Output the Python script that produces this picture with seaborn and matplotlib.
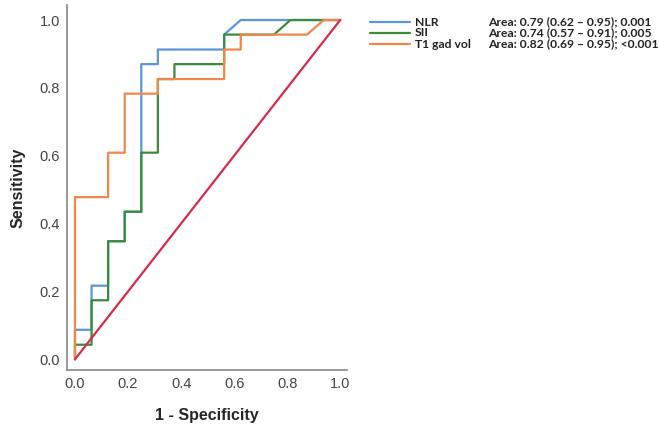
import matplotlib
matplotlib.use("Agg")
import matplotlib.pyplot as plt
import seaborn as sns
import pandas as pd

# ROC coordinates (16 negatives, 23 positives)
nlr_fpr = [0, 0, 0.0625, 0.0625, 0.125, 0.125, 0.1875, 0.1875, 0.25, 0.25, 0.3125, 0.3125, 0.5625, 0.5625, 0.625, 1.0]
nlr_tpr = [0, 0.087, 0.087, 0.217, 0.217, 0.348, 0.348, 0.435, 0.435, 0.870, 0.870, 0.913, 0.913, 0.957, 1.0, 1.0]

sii_fpr = [0, 0, 0.0625, 0.0625, 0.125, 0.125, 0.1875, 0.1875, 0.25, 0.25, 0.3125, 0.3125, 0.375, 0.375, 0.5625, 0.5625, 0.75, 0.8125, 1.0]
sii_tpr = [0, 0.043, 0.043, 0.174, 0.174, 0.348, 0.348, 0.435, 0.435, 0.609, 0.609, 0.826, 0.826, 0.870, 0.870, 0.957, 0.957, 1.0, 1.0]

t1_fpr = [0, 0, 0.125, 0.125, 0.1875, 0.1875, 0.3125, 0.3125, 0.5625, 0.5625, 0.625, 0.625, 0.875, 0.9375, 1.0]
t1_tpr = [0, 0.478, 0.478, 0.609, 0.609, 0.783, 0.783, 0.826, 0.826, 0.913, 0.913, 0.957, 0.957, 1.0, 1.0]

ref_fpr = [0, 1]
ref_tpr = [0, 1]

names = ["NLR", "SII", "T1 gad vol"]
areas = ["Area: 0.79 (0.62 \u2013 0.95); 0.001",
         "Area: 0.74 (0.57 \u2013 0.91); 0.005",
         "Area: 0.82 (0.69 \u2013 0.95); <0.001"]
colors = {"NLR": "#5b96d8", "SII": "#3a8c3a", "T1 gad vol": "#f2874a", "ref": "#d62b4b"}

rows = []
for name, xs, ys in [("NLR", nlr_fpr, nlr_tpr), ("SII", sii_fpr, sii_tpr),
                     ("T1 gad vol", t1_fpr, t1_tpr), ("ref", ref_fpr, ref_tpr)]:
    for i, (x, y) in enumerate(zip(xs, ys)):
        rows.append({"curve": name, "order": i, "fpr": x, "tpr": y})
df = pd.DataFrame(rows)

sns.set_style("white")
plt.rcParams["font.family"] = ["Liberation Sans", "DejaVu Sans"]

fig = plt.figure(figsize=(6.59, 4.24), dpi=100)
ax = fig.add_axes([0.1017, 0.127, 0.425, 0.861])

# draw order: blue, green, orange, then the reference diagonal on top
for name in ["NLR", "SII", "T1 gad vol", "ref"]:
    sns.lineplot(data=df[df["curve"] == name], x="fpr", y="tpr", estimator=None,
                 sort=False, color=colors[name], linewidth=1.6, ax=ax)

ax.set_xlim(-0.03, 1.026)
ax.set_ylim(-0.032, 1.044)
ax.set_xticks([0, 0.2, 0.4, 0.6, 0.8, 1.0])
ax.set_yticks([0, 0.2, 0.4, 0.6, 0.8, 1.0])
ax.set_xticklabels([f"{v:.1f}" for v in ax.get_xticks()])
ax.set_yticklabels([f"{v:.1f}" for v in ax.get_yticks()])
ax.tick_params(length=0, labelsize=10.5, labelcolor="#444444", pad=5)
for s in ["top", "right"]:
    ax.spines[s].set_visible(False)
for s in ["left", "bottom"]:
    ax.spines[s].set_color("#888888")
    ax.spines[s].set_linewidth(1.2)
ax.set_xlabel("1 - Specificity", fontsize=11.5, fontweight="bold", labelpad=12)
ax.set_ylabel("Sensitivity", fontsize=11.5, fontweight="bold", labelpad=10)

# legend block drawn by hand, beside the axes
for i, name in enumerate(names):
    y = 1 - (22 + 11 * i) / 424
    fig.add_artist(plt.Line2D([370 / 659, 410 / 659], [y, y], color=colors[name], linewidth=1.6))
    fig.text(415 / 659, y, name, fontsize=8.7, fontweight="bold", family=["Lato", "DejaVu Sans"],
             va="center", ha="left", color="#222222")
    fig.text(488 / 659, y, areas[i], fontsize=8.7, fontweight="bold", family=["Lato", "DejaVu Sans"],
             va="center", ha="left", color="#222222")

fig.savefig("out.png", dpi=100)
